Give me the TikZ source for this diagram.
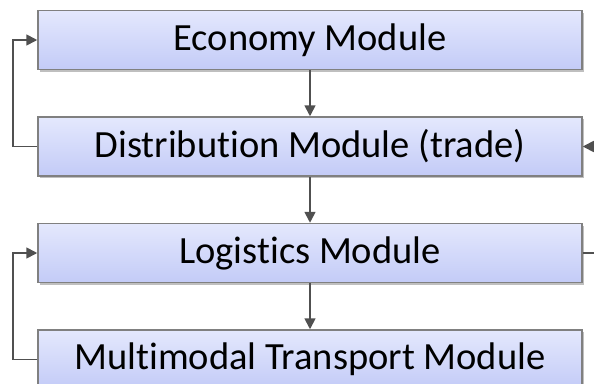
\documentclass[tikz,border=0pt]{standalone}
\usepackage{fontspec}
\setmainfont{Carlito}[Ligatures=NoCommon]
\usepackage{xcolor}
\usetikzlibrary{arrows.meta, positioning, shadows}

\definecolor{boxtop}{HTML}{E4E8FD}
\definecolor{boxbot}{HTML}{C3CBF7}
\definecolor{boxline}{HTML}{808080}
\definecolor{arrowgrey}{HTML}{505050}

\begin{document}
\begin{tikzpicture}[
    node distance=46pt,
    module/.style={rectangle, draw=boxline, line width=1.5pt, top color=boxtop, bottom color=boxbot,
        minimum width=544pt, minimum height=59pt, inner sep=0pt,
        font=\fontsize{38.5}{44}\selectfont,
        drop shadow={shadow xshift=1.5pt, shadow yshift=-2pt, opacity=0.25, fill=black}},
    arrow/.style={-{Triangle[length=11pt, width=11pt]}, line width=1.7pt, draw=arrowgrey}
]
    \useasboundingbox (0pt,0pt) rectangle (594pt,-383pt);

    \node[module] (econ) at (310pt,-40pt) {Economy Module};
    \node[module, below=of econ] (distr) {Distribution Module (trade)};
    \node[module, below=of distr] (logist) {Logistics Module};
    \node[module, below=of logist] (transp) {Multimodal Transport Module};

    % down the chain
    \draw[arrow] (econ) -- (distr);
    \draw[arrow] (distr) -- (logist);
    \draw[arrow] (logist) -- (transp);

    % feedback loops
    \draw[arrow] (distr.west) -- ++(-24pt,0) |- (econ.west);
    \draw[arrow] (transp.west) -- ++(-24pt,0) |- (logist.west);
    \draw[arrow] (logist.east) -- ++(30pt,0) |- (distr.east);
\end{tikzpicture}
\end{document}
